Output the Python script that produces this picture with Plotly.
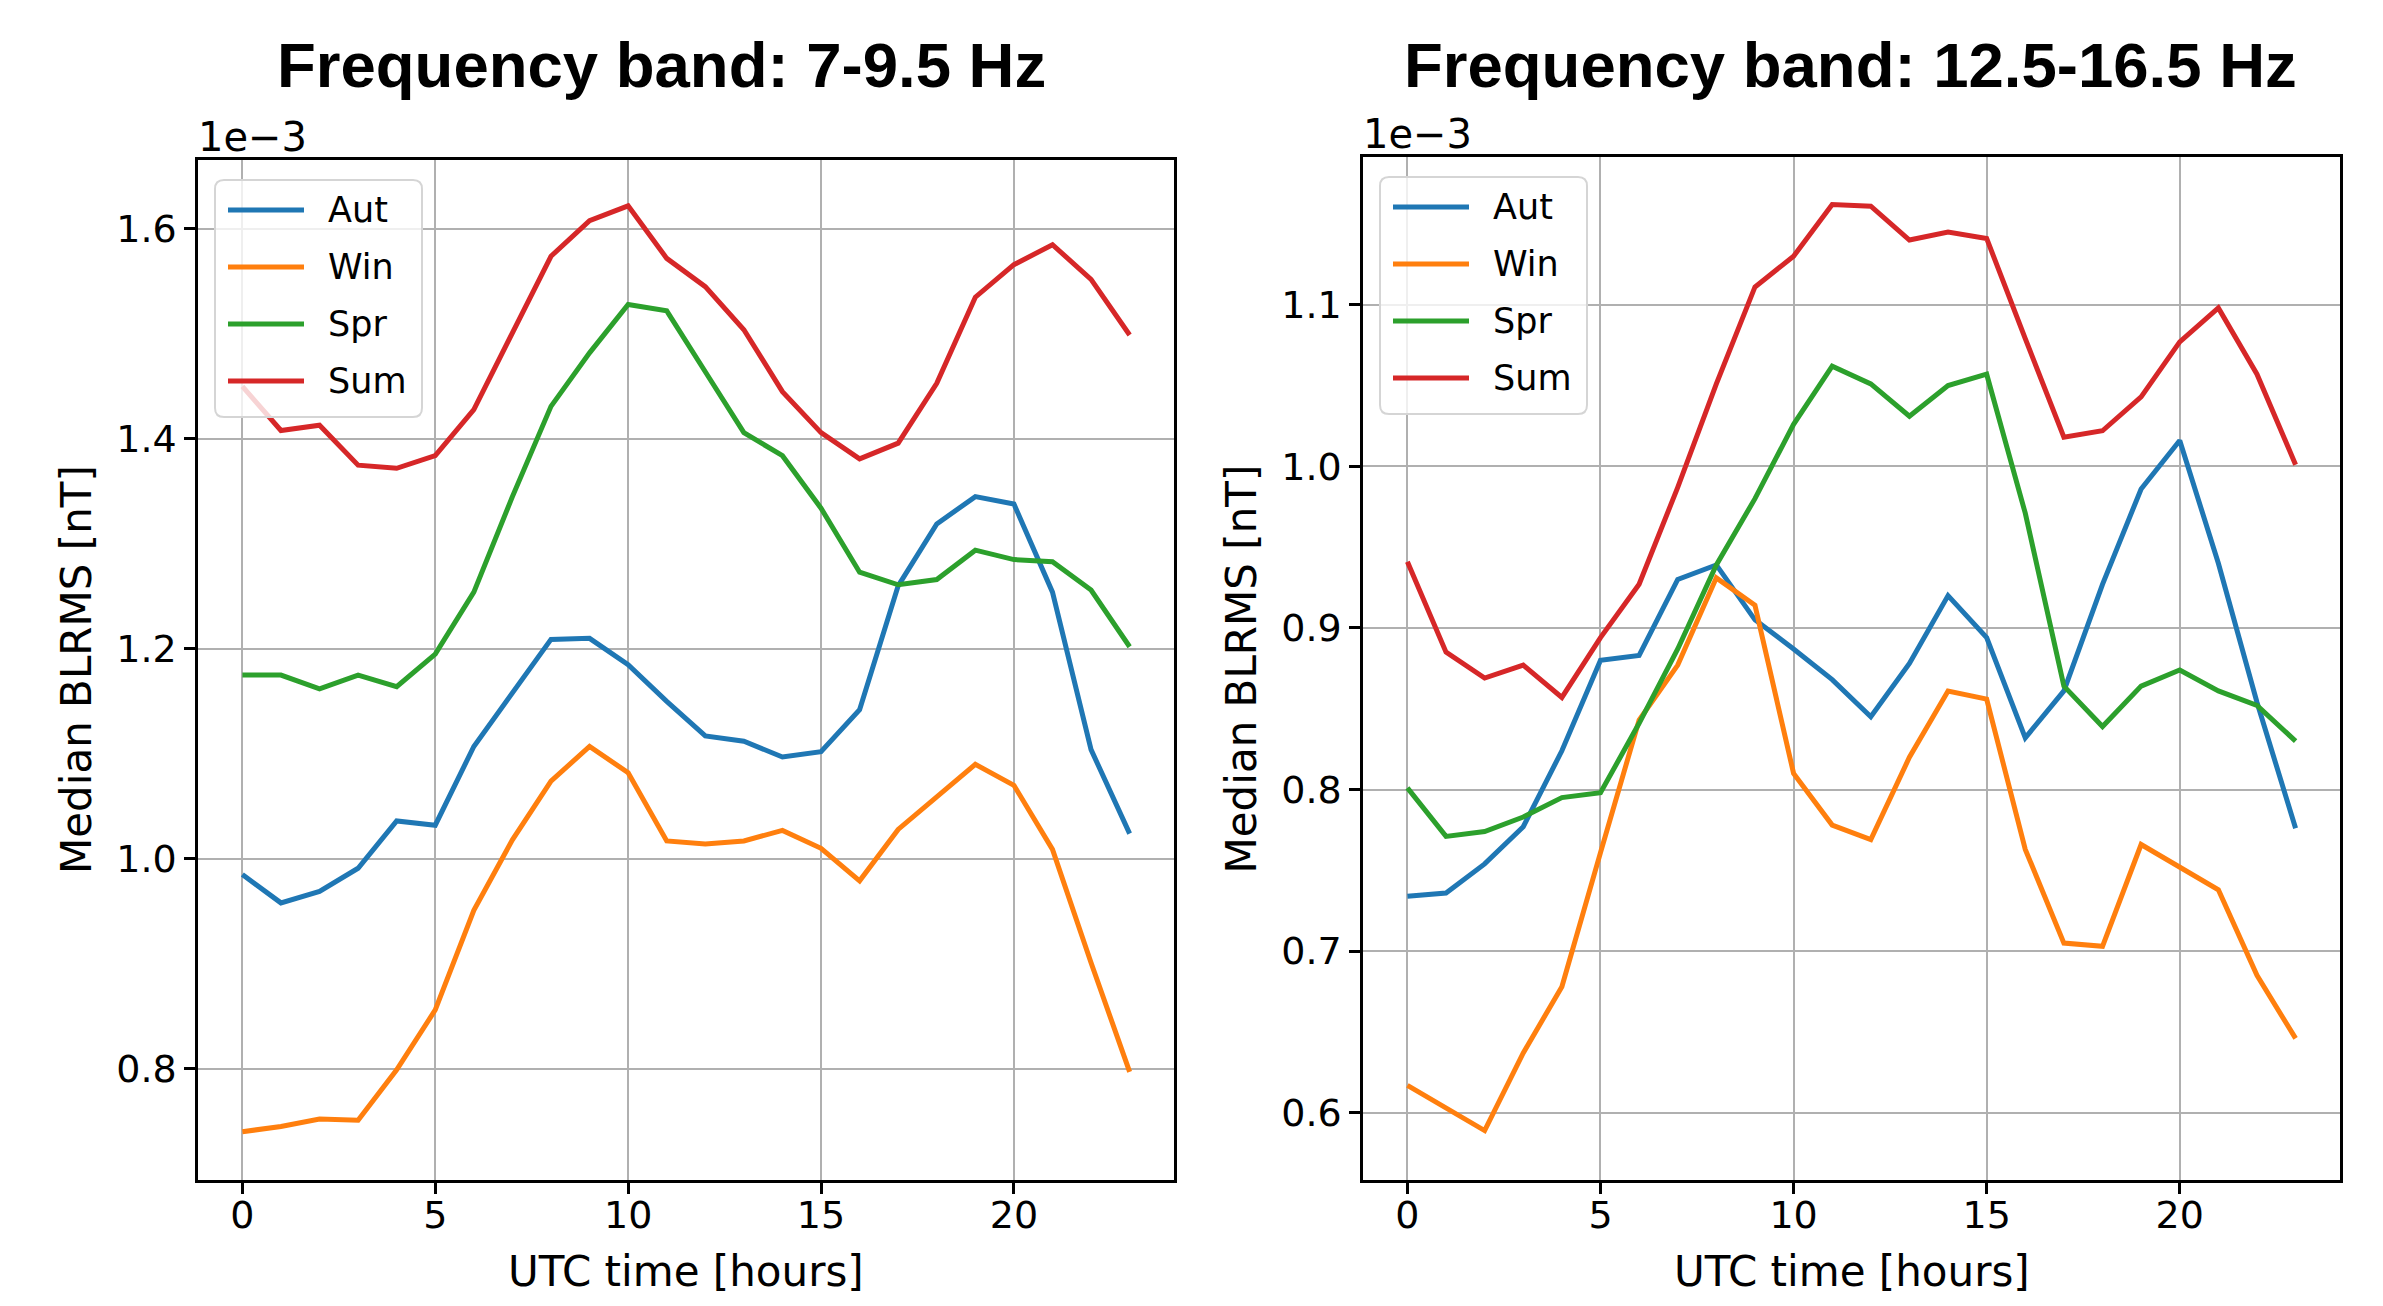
import plotly.graph_objects as go

# ---------------- data (values in units of 1e-3 nT, as on the axes) ----------------
hours = list(range(24))
series_names = ["Aut", "Win", "Spr", "Sum"]
series_colors = ["#1f77b4", "#ff7f0e", "#2ca02c", "#d62728"]

titles = ["Frequency band: 7-9.5 Hz", "Frequency band: 12.5-16.5 Hz"]
x_tick_vals = [0, 5, 10, 15, 20]
y_ticks_left = [0.8, 1.0, 1.2, 1.4, 1.6]
y_ticks_right = [0.6, 0.7, 0.8, 0.9, 1.0, 1.1]

# 7-9.5 Hz
aut_a = [0.985, 0.958, 0.969, 0.991, 1.036, 1.032, 1.107, 1.158, 1.209, 1.210, 1.185, 1.150,
         1.117, 1.112, 1.097, 1.102, 1.142, 1.260, 1.319, 1.345, 1.338, 1.254, 1.104, 1.024]
win_a = [0.740, 0.745, 0.752, 0.751, 0.799, 0.856, 0.951, 1.018, 1.074, 1.107, 1.082, 1.017,
         1.014, 1.017, 1.027, 1.010, 0.979, 1.028, 1.059, 1.090, 1.070, 1.009, 0.901, 0.797]
spr_a = [1.175, 1.175, 1.162, 1.175, 1.164, 1.195, 1.254, 1.345, 1.431, 1.482, 1.528, 1.522,
         1.464, 1.406, 1.384, 1.334, 1.273, 1.261, 1.266, 1.294, 1.285, 1.283, 1.256, 1.202]
sum_a = [1.450, 1.408, 1.413, 1.375, 1.372, 1.384, 1.428, 1.500, 1.574, 1.608, 1.622, 1.572,
         1.545, 1.504, 1.445, 1.406, 1.381, 1.396, 1.453, 1.535, 1.566, 1.585, 1.552, 1.499]

# 12.5-16.5 Hz
aut_b = [0.734, 0.736, 0.754, 0.777, 0.824, 0.880, 0.883, 0.930, 0.939, 0.905, 0.887, 0.868,
         0.845, 0.878, 0.920, 0.894, 0.832, 0.861, 0.927, 0.986, 1.016, 0.940, 0.854, 0.776]
win_b = [0.617, 0.603, 0.589, 0.637, 0.678, 0.761, 0.843, 0.877, 0.931, 0.914, 0.810, 0.778,
         0.769, 0.820, 0.861, 0.856, 0.763, 0.705, 0.703, 0.766, 0.752, 0.738, 0.685, 0.646]
spr_b = [0.801, 0.771, 0.774, 0.783, 0.795, 0.798, 0.841, 0.887, 0.939, 0.980, 1.026, 1.062,
         1.051, 1.031, 1.050, 1.057, 0.971, 0.864, 0.839, 0.864, 0.874, 0.861, 0.852, 0.830]
sum_b = [0.941, 0.885, 0.869, 0.877, 0.857, 0.894, 0.927, 0.987, 1.051, 1.111, 1.130, 1.162,
         1.161, 1.140, 1.145, 1.141, 1.079, 1.018, 1.022, 1.043, 1.077, 1.098, 1.057, 1.001]

panel_a = [aut_a, win_a, spr_a, sum_a]
panel_b = [aut_b, win_b, spr_b, sum_b]

# ---------------- layout helpers ----------------
W, H = 2383, 1306
def px(x):
    return x / W
def py(y):
    return 1 - y / H

FONT = "DejaVu Sans"
FS_TICK = 38
FS_LABEL = 42
FS_OFFSET = 40
FS_LEGEND = 35
# axes boxes in pixels: (left, top, right, bottom)
boxes = [(198, 160, 1174, 1180), (1363, 157, 2340, 1180)]
yranges = [[0.694, 1.6657], [0.5584, 1.1914]]
xrange_ = [-1.15, 24.15]

fig = go.Figure()
for p, (panel, suffix) in enumerate([(panel_a, ""), (panel_b, "2")]):
    for name, color, vals in zip(series_names, series_colors, panel):
        fig.add_trace(go.Scatter(x=hours, y=vals, mode="lines", name=name,
                                 line=dict(color=color, width=5),
                                 xaxis="x" + suffix, yaxis="y" + suffix,
                                 showlegend=False))

axis_common = dict(showline=True, mirror=True, linecolor="black", linewidth=2.5,
                   ticks="outside", ticklen=11, tickwidth=2.5, tickcolor="black",
                   showgrid=True, gridcolor="#b0b0b0", gridwidth=2,
                   zeroline=False, tickfont=dict(family=FONT, size=FS_TICK, color="black"))

layout = dict(width=W, height=H, margin=dict(l=0, r=0, t=0, b=0),
              paper_bgcolor="white", plot_bgcolor="white", showlegend=False)
for p in range(2):
    L, T, R, B = boxes[p]
    sfx = "" if p == 0 else "2"
    layout["xaxis" + sfx] = dict(axis_common, domain=[px(L), px(R)], range=xrange_,
                                 tickvals=x_tick_vals, anchor="y" + sfx,
                                 ticklabelstandoff=-11)
    layout["yaxis" + sfx] = dict(axis_common, domain=[py(B), py(T)], range=yranges[p],
                                 tickvals=(y_ticks_left if p == 0 else y_ticks_right),
                                 tickformat=".1f", anchor="x" + sfx,
                                 ticklabelstandoff=0)
fig.update_layout(**layout)

annotations = []
shapes = []
title_centers = [661, 1850]
for p in range(2):
    L, T, R, B = boxes[p]
    cx = (L + R) / 2
    annotations.append(dict(text="<b>%s</b>" % titles[p], x=px(title_centers[p]), y=py(65),
                            xref="paper", yref="paper", xanchor="center", yanchor="middle",
                            showarrow=False,
                            font=dict(family="Liberation Sans", size=63.5, color="black")))
    annotations.append(dict(text="1e\u22123", x=px(L - 2), y=py(T - 23), xref="paper", yref="paper",
                            xanchor="left", yanchor="middle", showarrow=False,
                            font=dict(family=FONT, size=FS_OFFSET, color="black")))
    annotations.append(dict(text="UTC time [hours]", x=px(cx), y=py(1271), xref="paper",
                            yref="paper", xanchor="center", yanchor="middle", showarrow=False,
                            font=dict(family=FONT, size=FS_LABEL, color="black")))
    annotations.append(dict(text="Median BLRMS [nT]", x=px(L - 122), y=py((T + B) / 2),
                            xref="paper", yref="paper", xanchor="center", yanchor="middle",
                            textangle=-90, showarrow=False,
                            font=dict(family=FONT, size=FS_LABEL, color="black")))
    # legend box (rounded rectangle)
    x0, y0, x1, y1 = L + 17, T + 20, L + 224, T + 257
    r = 9
    path = ("M {a},{b} L {c},{b} Q {x1},{b} {x1},{d} L {x1},{e} Q {x1},{y1p} {c},{y1p} "
            "L {a},{y1p} Q {x0},{y1p} {x0},{e} L {x0},{d} Q {x0},{b} {a},{b} Z").format(
        a=px(x0 + r), b=py(y0), c=px(x1 - r), d=py(y0 + r), e=py(y1 - r),
        x0=px(x0), x1=px(x1), y1p=py(y1))
    shapes.append(dict(type="path", path=path, xref="paper", yref="paper", layer="above",
                       fillcolor="rgba(255,255,255,0.8)", line=dict(color="#d5d5d5", width=2)))
    for i, (name, color) in enumerate(zip(series_names, series_colors)):
        yy = T + 50 + i * 57
        shapes.append(dict(type="line", xref="paper", yref="paper", layer="above",
                           x0=px(L + 30), x1=px(L + 106), y0=py(yy), y1=py(yy),
                           line=dict(color=color, width=5)))
        annotations.append(dict(text=name, x=px(L + 128), y=py(yy), xref="paper", yref="paper",
                                xanchor="left", yanchor="middle", showarrow=False,
                                font=dict(family=FONT, size=FS_LEGEND, color="black")))

fig.update_layout(annotations=annotations, shapes=shapes)
fig.write_html("out.html")
